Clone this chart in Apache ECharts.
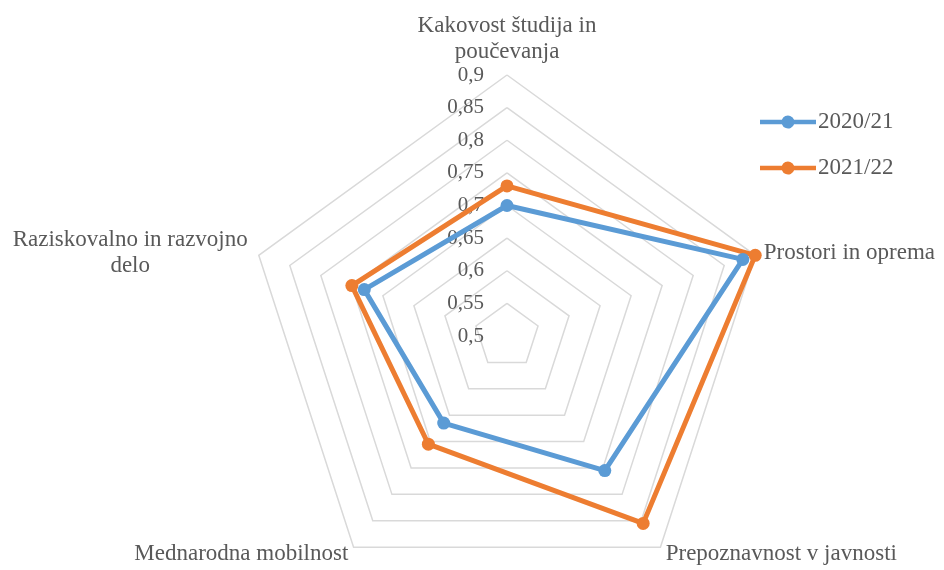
<!DOCTYPE html>
<html><head><meta charset="utf-8">
<script src="https://cdn.jsdelivr.net/npm/echarts@6/dist/echarts.min.js"></script>
<style>html,body{margin:0;padding:0;background:#fff}#c{width:944px;height:570px}</style>
</head><body><div id="c"></div>
<script>
// Categories in the reference's clockwise order, starting at the top
var indicators = ['Kakovost študija in\npoučevanja', 'Prostori in oprema', 'Prepoznavnost v javnosti', 'Mednarodna mobilnost', 'Raziskovalno in razvojno\ndelo'];
var seriesNames = ['2020/21', '2021/22'];
var values2020 = [0.70, 0.88, 0.755, 0.665, 0.73];
var values2021 = [0.73, 0.90, 0.855, 0.705, 0.75];
var axisMin = 0.5, axisMax = 0.9, axisSplits = 8;
var colors = ['#5B9BD5', '#ED7D31'];
var FONT = 'Liberation Serif';

// ECharts lays radar indicators counter-clockwise; reorder so they run clockwise
var order = [0, 4, 3, 2, 1];
function reorder(arr) { return order.map(function (i) { return arr[i]; }); }

var legendIcon = 'path://M0,4.75H21.9A6.5,6.5 0 0 1 34.1,4.75H56V9.25H34.1A6.5,6.5 0 0 1 21.9,9.25H0Z';

var chart = echarts.init(document.getElementById('c'));
chart.setOption({
  animation: false,
  color: colors,
  legend: {
    orient: 'vertical', left: 760, top: 110, padding: 0, itemWidth: 56, itemHeight: 14, itemGap: 22,
    icon: legendIcon,
    textStyle: {fontFamily: FONT, fontSize: 23, lineHeight: 24, color: '#595959', padding: [0, 0, 0, -3]},
    data: seriesNames
  },
  radar: {
    center: [507, 336], radius: 261, shape: 'polygon', splitNumber: axisSplits, startAngle: 90,
    nameGap: 9,
    axisName: {
      fontFamily: FONT, fontSize: 23, color: '#595959', lineHeight: 26,
      formatter: function (name) {
        if (name.indexOf('\n') >= 0) {
          return name.split('\n').map(function (l) { return '{c|' + l + '}'; }).join('\n');
        }
        return name;
      },
      rich: {c: {fontFamily: FONT, fontSize: 23, color: '#595959', lineHeight: 26, width: 240, align: 'center'}}
    },
    splitLine: {lineStyle: {color: '#D9D9D9', width: 1.5}},
    splitArea: {show: false},
    axisLine: {show: false},
    axisTick: {show: false},
    axisLabel: {show: false},
    indicator: reorder(indicators).map(function (n, i) {
      var o = {name: n, min: axisMin, max: axisMax};
      if (i === 0) o.axisLabel = {show: true, fontFamily: FONT, fontSize: 21, color: '#595959', margin: 23,
        formatter: function (v) { return String(Math.round(v * 100) / 100).replace('.', ','); }};
      return o;
    })
  },
  series: [{
    type: 'radar', symbol: 'circle', symbolSize: 13,
    data: [
      {name: seriesNames[0], value: reorder(values2020), itemStyle: {color: colors[0]}, lineStyle: {color: colors[0], width: 5}},
      {name: seriesNames[1], value: reorder(values2021), itemStyle: {color: colors[1]}, lineStyle: {color: colors[1], width: 5}}
    ]
  }]
});
</script></body></html>
